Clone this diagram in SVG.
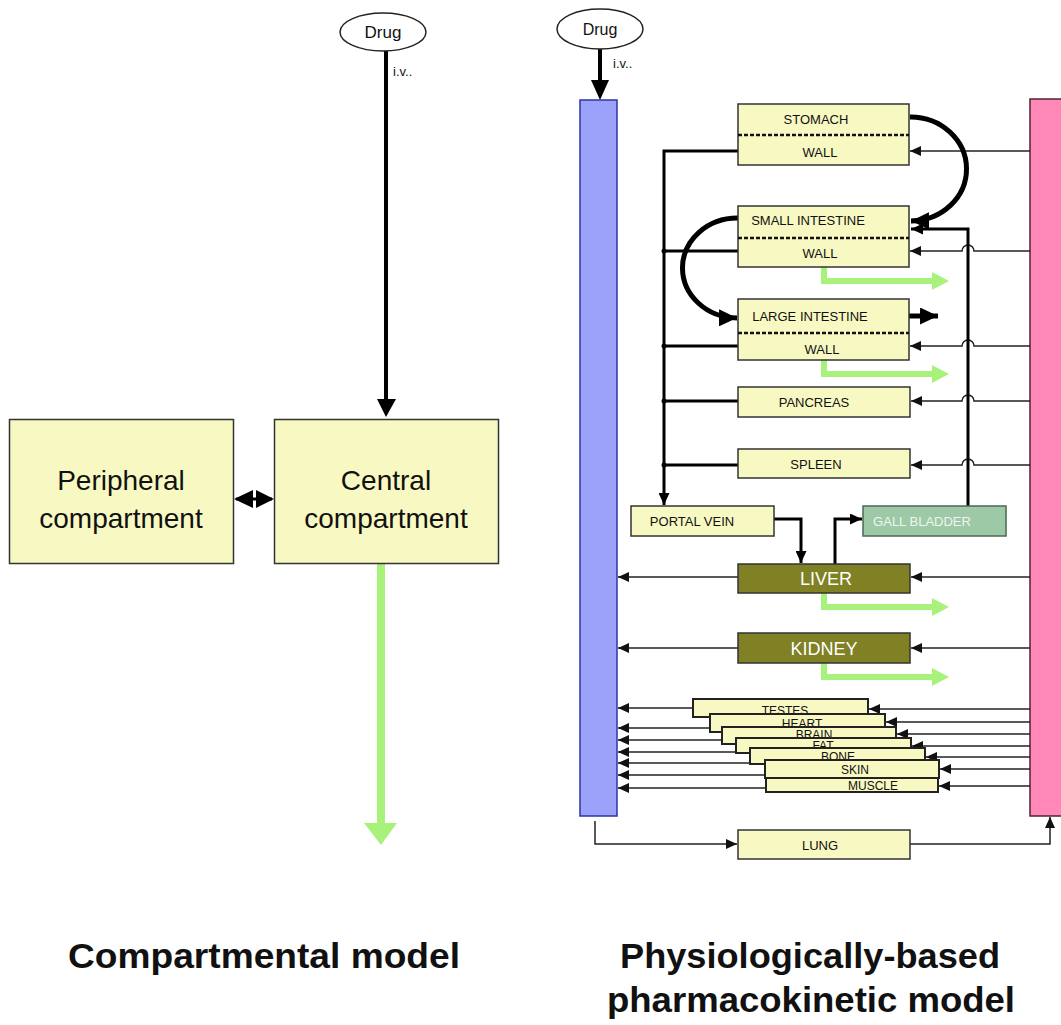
<svg xmlns="http://www.w3.org/2000/svg" width="1061" height="1025" viewBox="0 0 1061 1025">
<style>
text{font-family:"Liberation Sans",Arial,sans-serif;fill:#111;}
.org{fill:#f8f9c2;stroke:#333;stroke-width:1.5;}
.stk{fill:#f8f9c2;stroke:#222;stroke-width:2;}
.olive{fill:#7f8124;stroke:#333;stroke-width:1.5;}
.lbl{font-size:13px;text-anchor:middle;}
.sm{font-size:12px;text-anchor:middle;}
.thin{fill:none;stroke:#222;stroke-width:1.5;}
.thick{fill:none;stroke:#000;stroke-width:3;}
.curve{fill:none;stroke:#000;stroke-width:5;}
.green{fill:none;stroke:#a8f27c;stroke-width:6;}
.gh{fill:#a8f27c;}
.dash{stroke:#111;stroke-width:2.5;stroke-dasharray:4 2;}
.title{font-size:35px;font-weight:bold;text-anchor:middle;}
</style>
<defs>
<marker id="ah" viewBox="0 0 10 10" refX="10" refY="5" markerWidth="11" markerHeight="10" markerUnits="userSpaceOnUse" orient="auto" preserveAspectRatio="none"><path d="M0,0 L10,5 L0,10 z" fill="#111"/></marker>
<marker id="ahm" viewBox="0 0 10 10" refX="10" refY="5" markerWidth="12" markerHeight="11" markerUnits="userSpaceOnUse" orient="auto" preserveAspectRatio="none"><path d="M0,0 L10,5 L0,10 z" fill="#000"/></marker>
<marker id="ahb" viewBox="0 0 10 10" refX="10" refY="5" markerWidth="18" markerHeight="17" markerUnits="userSpaceOnUse" orient="auto" preserveAspectRatio="none"><path d="M0,0 L10,5 L0,10 z" fill="#000"/></marker>
</defs>
<rect width="1061" height="1025" fill="#fff"/>

<!-- LEFT: compartmental model -->
<g id="connectors-left">
<line x1="386" y1="51" x2="386" y2="401" stroke="#000" stroke-width="4"/>
<polygon points="377,399 396,399 386,417" fill="#000"/>
<line x1="236" y1="499" x2="272" y2="499" stroke="#000" stroke-width="3"/>
<polygon points="234,499 253,490 253,508" fill="#000"/>
<polygon points="274,499 256,490 256,508" fill="#000"/>
<line x1="381" y1="563" x2="381" y2="824" stroke="#a8f27c" stroke-width="8"/>
<polygon points="364,823 397,823 381,845" fill="#a8f27c"/>
</g>
<g id="drug-left">
<ellipse cx="383" cy="32" rx="43" ry="19" fill="#fff" stroke="#222" stroke-width="1.5"/>
<text x="383" y="38" font-size="17" text-anchor="middle">Drug</text>
<text x="393" y="76" font-size="13">i.v..</text>
</g>
<g id="peripheral">
<rect x="9.5" y="419.5" width="224" height="144" class="org"/>
<text x="121" y="490" font-size="28" text-anchor="middle">Peripheral</text>
<text x="121" y="528" font-size="28" text-anchor="middle">compartment</text>
</g>
<g id="central">
<rect x="274.5" y="419.5" width="224" height="144" class="org"/>
<text x="386" y="490" font-size="28" text-anchor="middle">Central</text>
<text x="386" y="528" font-size="28" text-anchor="middle">compartment</text>
</g>
<text x="264" y="968" class="title" textLength="392" lengthAdjust="spacingAndGlyphs">Compartmental model</text>

<!-- RIGHT: PBPK model -->
<g id="venous-blood"><rect x="580" y="100" width="37" height="716" fill="#9ca2f9" stroke="#2a35a8" stroke-width="1.5"/></g>
<g id="arterial-blood"><rect x="1030" y="99" width="40" height="717" fill="#ff88b8" stroke="#552233" stroke-width="1.5"/></g>

<g id="connectors-right">
<line x1="600" y1="49" x2="600" y2="82" stroke="#000" stroke-width="4"/>
<polygon points="591,80 609,80 600,100" fill="#000"/>
<path d="M738 151 H664 V505" class="thick" marker-end="url(#ahm)"/>
<path d="M738 251 H664 M738 346 H664 M738 401 H664 M738 465 H664" class="thick"/>
<circle cx="664" cy="251" r="2.5"/><circle cx="664" cy="346" r="2.5"/><circle cx="664" cy="401" r="2.5"/><circle cx="664" cy="465" r="2.5"/>
<path d="M1030 151 H910" class="thin" marker-end="url(#ah)"/>
<path d="M1030 251 H974 A6 6 0 0 0 962 251 H910" class="thin" marker-end="url(#ah)"/>
<path d="M1030 346 H974 A6 6 0 0 0 962 346 H910" class="thin" marker-end="url(#ah)"/>
<path d="M1030 401 H974 A6 6 0 0 0 962 401 H911" class="thin" marker-end="url(#ah)"/>
<path d="M1030 465 H974 A6 6 0 0 0 962 465 H911" class="thin" marker-end="url(#ah)"/>
<path d="M1030 577 H911" class="thin" marker-end="url(#ah)"/>
<path d="M1030 648 H911" class="thin" marker-end="url(#ah)"/>
<path d="M738 577 H618" class="thin" marker-end="url(#ah)"/>
<path d="M738 648 H618" class="thin" marker-end="url(#ah)"/>
<path d="M968 506 V229 H911" class="thick" marker-end="url(#ahm)"/>
<path d="M774 519 H801 V563" class="thick" marker-end="url(#ahm)"/>
<path d="M835 564 V519 H862" class="thick" marker-end="url(#ahm)"/>
<path d="M910 117 A56 52 0 0 1 911 221" class="curve" marker-end="url(#ahb)"/>
<path d="M738 218 A55 50 0 0 0 737 318" class="curve" marker-end="url(#ahb)"/>
<path d="M909 316 H938" class="curve" marker-end="url(#ahb)"/>
<path d="M824 267 V281 H933" class="green"/><polygon points="932,272 949,281 932,290" class="gh"/>
<path d="M824 360 V374 H933" class="green"/><polygon points="932,365 949,374 932,383" class="gh"/>
<path d="M824 593 V607 H933" class="green"/><polygon points="932,598 949,607 932,616" class="gh"/>
<path d="M824 663 V677 H933" class="green"/><polygon points="932,668 949,677 932,686" class="gh"/>
<path d="M693 708 H618" class="thin" marker-end="url(#ah)"/>
<path d="M710 728 H618" class="thin" marker-end="url(#ah)"/>
<path d="M722 740 H618" class="thin" marker-end="url(#ah)"/>
<path d="M736 752 H618" class="thin" marker-end="url(#ah)"/>
<path d="M750 763 H618" class="thin" marker-end="url(#ah)"/>
<path d="M765 775 H618" class="thin" marker-end="url(#ah)"/>
<path d="M766 788 H618" class="thin" marker-end="url(#ah)"/>
<path d="M1030 709 H869" class="thin" marker-end="url(#ah)"/>
<path d="M1030 722 H886" class="thin" marker-end="url(#ah)"/>
<path d="M1030 734 H897" class="thin" marker-end="url(#ah)"/>
<path d="M1030 746 H912" class="thin" marker-end="url(#ah)"/>
<path d="M1030 757 H926" class="thin" marker-end="url(#ah)"/>
<path d="M1030 769 H940" class="thin" marker-end="url(#ah)"/>
<path d="M1030 786 H939" class="thin" marker-end="url(#ah)"/>
<path d="M595 821 V844 H737" class="thin" marker-end="url(#ah)"/>
<path d="M910 844 H1050 V817" class="thin" marker-end="url(#ah)"/>
</g>

<g id="drug-right">
<ellipse cx="600" cy="29" rx="43" ry="20" fill="#fff" stroke="#222" stroke-width="1.5"/>
<text x="600" y="35" font-size="16" text-anchor="middle">Drug</text>
<text x="613" y="68" font-size="13">i.v..</text>
</g>
<g id="stomach">
<rect x="738" y="104" width="171" height="61" class="org"/>
<line x1="738" y1="135" x2="909" y2="135" class="dash"/>
<text x="816" y="124" class="lbl">STOMACH</text>
<text x="820" y="157" class="lbl">WALL</text>
</g>
<g id="small-intestine">
<rect x="738" y="206" width="171" height="61" class="org"/>
<line x1="738" y1="238" x2="909" y2="238" class="dash"/>
<text x="808" y="225" class="lbl">SMALL INTESTINE</text>
<text x="820" y="258" class="lbl">WALL</text>
</g>
<g id="large-intestine">
<rect x="738" y="299" width="171" height="61" class="org"/>
<line x1="738" y1="333" x2="909" y2="333" class="dash"/>
<text x="810" y="321" class="lbl">LARGE INTESTINE</text>
<text x="822" y="354" class="lbl">WALL</text>
</g>
<g id="pancreas">
<rect x="738" y="387" width="172" height="30" class="org"/>
<text x="814" y="407" class="lbl">PANCREAS</text>
</g>
<g id="spleen">
<rect x="738" y="449" width="172" height="29" class="org"/>
<text x="816" y="469" class="lbl">SPLEEN</text>
</g>
<g id="portal-vein">
<rect x="631" y="506" width="143" height="30" class="org"/>
<text x="692" y="526" class="lbl">PORTAL VEIN</text>
</g>
<g id="gall-bladder">
<rect x="863" y="506" width="143" height="30" fill="#9dc9a6" stroke="#4a6a50" stroke-width="1.5"/>
<text x="922" y="526" class="lbl" style="fill:#eef6ef">GALL BLADDER</text>
</g>
<g id="liver">
<rect x="738" y="564" width="172" height="29" class="olive"/>
<text x="826" y="585" font-size="18" text-anchor="middle" style="fill:#fff">LIVER</text>
</g>
<g id="kidney">
<rect x="738" y="633" width="172" height="30" class="olive"/>
<text x="824" y="655" font-size="18" text-anchor="middle" style="fill:#fff">KIDNEY</text>
</g>
<g id="testes"><rect x="693" y="699" width="175" height="18" class="stk"/><text x="785" y="715" class="sm">TESTES</text></g>
<g id="heart"><rect x="710" y="714" width="175" height="18" class="stk"/><text x="802" y="728" class="sm">HEART</text></g>
<g id="brain"><rect x="722" y="727" width="174" height="17" class="stk"/><text x="814" y="739" class="sm">BRAIN</text></g>
<g id="fat"><rect x="736" y="738" width="175" height="15" class="stk"/><text x="823" y="750" class="sm">FAT</text></g>
<g id="bone"><rect x="750" y="748" width="175" height="16" class="stk"/><text x="838" y="761" class="sm">BONE</text></g>
<g id="skin"><rect x="765" y="760" width="174" height="18" class="stk"/><text x="855" y="774" class="sm">SKIN</text></g>
<g id="muscle"><rect x="766" y="778" width="172" height="14" class="stk"/><text x="873" y="790" class="sm">MUSCLE</text></g>
<g id="lung">
<rect x="738" y="830" width="172" height="29" class="org"/>
<text x="820" y="850" class="lbl">LUNG</text>
</g>
<text x="810" y="968" class="title" textLength="380" lengthAdjust="spacingAndGlyphs">Physiologically-based</text>
<text x="811" y="1012" class="title" textLength="408" lengthAdjust="spacingAndGlyphs">pharmacokinetic model</text>
</svg>
